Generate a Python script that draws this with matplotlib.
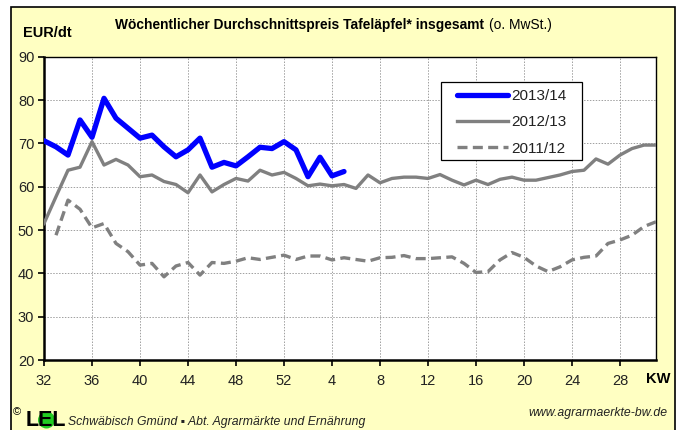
import matplotlib.pyplot as plt
from matplotlib.patches import Rectangle, Ellipse
from matplotlib.legend_handler import HandlerLine2D

# Kalenderwochen (Saison KW 32 bis KW 31)
weeks = list(range(32, 53)) + list(range(1, 32))

price_2013_14 = [70.6, 69.2, 67.3, 75.4, 71.4, 80.4, 75.8, 73.5, 71.2, 71.9,
                 69.2, 66.9, 68.5, 71.2, 64.5, 65.6, 64.8, 66.9, 69.1, 68.8,
                 70.4, 68.5, 62.3, 66.8, 62.5, 63.5]

price_2012_13 = [51.5, 57.7, 63.8, 64.5, 70.4, 65.0, 66.3, 65.0, 62.3, 62.7,
                 61.2, 60.5, 58.6, 62.7, 58.8, 60.5, 61.9, 61.3, 63.8, 62.7,
                 63.3, 61.9, 60.2, 60.6, 60.2, 60.5, 59.6, 62.7, 60.9, 61.9,
                 62.2, 62.2, 61.9, 62.8, 61.5, 60.4, 61.5, 60.5, 61.7, 62.2,
                 61.5, 61.5, 62.1, 62.7, 63.5, 63.8, 66.4, 65.2, 67.3, 68.8,
                 69.6, 69.6]

# 2011/12 beginnt erst in KW 33
price_2011_12 = [None, 48.8, 56.9, 54.8, 50.5, 51.5, 46.9, 45.0, 41.9, 42.3,
                 39.2, 41.7, 42.5, 39.6, 42.5, 42.3, 42.8, 43.6, 43.2, 43.7,
                 44.2, 43.2, 44.0, 44.0, 43.1, 43.6, 43.2, 42.8, 43.6, 43.7,
                 44.1, 43.4, 43.4, 43.6, 43.8, 42.3, 40.2, 40.4, 43.1, 44.8,
                 43.7, 41.7, 40.4, 41.5, 43.1, 43.7, 44.0, 46.9, 47.7, 48.8,
                 50.8, 51.9]

W, H = 681, 430
BG = '#ffffc2'
FONT = 'Liberation Sans'

# Plotbereich in Pixeln (links, oben, rechts, unten)
PX0, PY0, PX1, PY1 = 44, 56.7, 656, 360

fig = plt.figure(figsize=(W / 100, H / 100), dpi=100)
fig.patch.set_facecolor('white')

# Rahmen um die Grafik
fig.patches.append(Rectangle((10.5 / W, -0.01), (675 - 10.5) / W, (H - 7) / H + 0.01,
                             transform=fig.transFigure, facecolor=BG,
                             edgecolor='black', linewidth=1.2, zorder=-5))

ax = fig.add_axes([PX0 / W, (H - PY1) / H, (PX1 - PX0) / W, (PY1 - PY0) / H])
ax.set_facecolor('white')


def xs(vals):
	return [i for i, v in enumerate(vals) if v is not None]


def ys(vals):
	return [v for v in vals if v is not None]


def ax_frac(px, py):
	# Pixel der Grafik -> Achsenkoordinaten
	return (px - PX0) / (PX1 - PX0), 1 - (py - PY0) / (PY1 - PY0)


ax.plot(xs(price_2011_12), ys(price_2011_12), color='#808080', linewidth=2.4,
        linestyle=(0, (3, 1.6)), label='2011/12', zorder=3)
ax.plot(xs(price_2012_13), ys(price_2012_13), color='#808080', linewidth=2.4,
        solid_joinstyle='round', label='2012/13', zorder=4)
ax.plot(xs(price_2013_14), ys(price_2013_14), color='#0000ff', linewidth=3.8,
        solid_joinstyle='round', solid_capstyle='round', label='2013/14', zorder=5)

ax.set_xlim(0, 51)
ax.set_ylim(20, 90)
tick_pos = list(range(0, 52, 4))
ax.set_xticks(tick_pos)
ax.set_xticklabels([str(weeks[i]) for i in tick_pos])
ax.set_yticks(range(20, 91, 10))
ax.tick_params(axis='both', direction='out', length=4, width=1.2, labelsize=10.5,
               labelcolor='#222222', pad=3)
ax.tick_params(axis='x', pad=6)
for lab in ax.get_xticklabels() + ax.get_yticklabels():
	lab.set_family(FONT)
ax.grid(True, color='#a0a0a0', linestyle=(0, (1.5, 1.5)), linewidth=0.7)
for side in ax.spines:
	ax.spines[side].set_linewidth(1.0)
ax.spines['left'].set_linewidth(1.8)
ax.spines['bottom'].set_linewidth(1.8)

# Legende: Rahmen separat, damit die Abstände wie im Original sind
bx0, by0 = ax_frac(440.7, 160)
bx1, by1 = ax_frac(581.7, 81.7)
ax.add_patch(Rectangle((bx0, by0), bx1 - bx0, by1 - by0, transform=ax.transAxes,
                       facecolor='white', edgecolor='black', linewidth=0.9, zorder=6))

handles, labels = ax.get_legend_handles_labels()
leg = ax.legend(handles[::-1], labels[::-1], loc='upper left',
                bbox_to_anchor=ax_frac(456.7, 89), frameon=False,
                prop={'family': FONT, 'size': 11}, handlelength=3.34, handletextpad=0.22,
                labelspacing=0.81, borderpad=0, borderaxespad=0,
                handler_map={h: HandlerLine2D(xpad=0) for h in handles})
leg.set_zorder(7)
for t in leg.get_texts():
	t.set_color('#222222')

# Titel
t1 = fig.text(115 / W, 1 - 25 / H, 'Wöchentlicher Durchschnittspreis Tafeläpfel* insgesamt',
              fontsize=9.9, fontweight='bold', family=FONT, va='center')
fig.canvas.draw()
bb = t1.get_window_extent()
fig.text((bb.x1 + 5) / W, 1 - 25 / H, '(o. MwSt.)', fontsize=9.9,
         family=FONT, va='center')

fig.text(23 / W, 1 - 33 / H, 'EUR/dt', fontsize=10.5, fontweight='bold',
         family=FONT, va='center')
fig.text(646 / W, 1 - 379 / H, 'KW', fontsize=10.5, fontweight='bold',
         family=FONT, va='center')

# Fusszeile mit Logo
fig.text(13 / W, 1 - 412 / H, '©', fontsize=8, family=FONT, va='center')
fig.patches.append(Ellipse((46.5 / W, 1 - 420 / H), 17 / W, 17 / H,
                           transform=fig.transFigure, facecolor='#22cc22',
                           edgecolor='none', zorder=1))
fig.text(26 / W, 1 - 426.5 / H, 'LEL', fontsize=15.5, fontweight='bold',
         family=FONT, va='baseline', zorder=2)
fig.text(68 / W, 1 - 422 / H, 'Schwäbisch Gmünd ▪ Abt. Agrarmärkte und Ernährung',
         fontsize=8.8, style='italic', family=FONT, va='center', color='#222222')
fig.text(668 / W, 1 - 413 / H, 'www.agrarmaerkte-bw.de', fontsize=8.8, style='italic',
         family=FONT, va='center', ha='right', color='#222222')

fig.savefig('out.png', dpi=100, facecolor=fig.get_facecolor())
